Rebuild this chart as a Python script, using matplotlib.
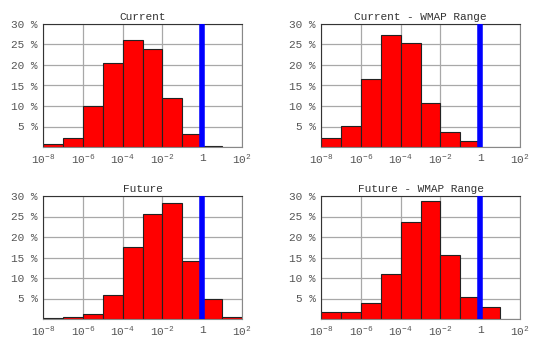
import numpy as np
import matplotlib
matplotlib.use("Agg")
import matplotlib.pyplot as plt

# fraction of models (%) per decade bin, 1e-8 .. 1e2
titles = ["Current", "Current - WMAP Range", "Future", "Future - WMAP Range"]
current = [0.7, 2.1, 9.9, 20.5, 26.1, 24.0, 12.0, 3.2, 0.3, 0.0]
current_wmap = [2.2, 5.1, 16.5, 27.3, 25.4, 10.8, 3.6, 1.4, 0.0, 0.0]
future = [0.2, 0.4, 1.2, 5.8, 17.6, 25.7, 28.3, 14.1, 4.9, 0.4]
future_wmap = [1.7, 1.7, 4.0, 11.0, 23.6, 28.7, 15.6, 5.4, 2.9, 0.0]
series = [current, current_wmap, future, future_wmap]

exponents = [-8, -6, -4, -2, 0, 2]
xtick_labels = [r"10$^{-8}$", r"10$^{-6}$", r"10$^{-4}$", r"10$^{-2}$", "1", r"10$^{2}$"]
ytick_vals = [5, 10, 15, 20, 25, 30]
ytick_labels = ["5 %", "10 %", "15 %", "20 %", "25 %", "30 %"]

plt.rcParams["font.family"] = ["Liberation Mono", "DejaVu Sans"]
plt.rcParams["mathtext.fontset"] = "custom"
plt.rcParams["mathtext.rm"] = "Liberation Mono"
plt.rcParams["mathtext.it"] = "Liberation Mono"

fig = plt.figure(figsize=(5.56, 3.44), dpi=100)
W, H = 556.0, 344.0
positions = [(43, 24), (321, 24), (43, 196), (321, 196)]
edges = np.logspace(-8, 2, 11)

for (x0, y0), title, vals in zip(positions, titles, series):
    ax = fig.add_axes([x0 / W, 1 - (y0 + 123) / H, 199 / W, 123 / H])
    ax.set_xscale("log")
    ax.bar(edges[:-1], vals, width=np.diff(edges), align="edge",
           color="#ff0000", edgecolor="#222222", linewidth=0.8, zorder=2)
    ax.axvline(1.0, color="#0000ff", linewidth=4, zorder=3)
    ax.set_xlim(1e-8, 1e2)
    ax.set_ylim(0, 30)
    ax.set_xticks([10.0 ** e for e in exponents])
    ax.set_xticklabels(xtick_labels)
    ax.xaxis.set_minor_locator(matplotlib.ticker.NullLocator())
    ax.set_yticks(ytick_vals)
    ax.set_yticklabels(ytick_labels)
    ax.tick_params(length=0, labelsize=8, labelcolor="#555555", pad=4)
    ax.grid(True, color="#a8a8a8", linewidth=0.9, zorder=0)
    ax.set_axisbelow(True)
    for side in ["left", "top"]:
        ax.spines[side].set_color("#333333")
    for side in ["right", "bottom"]:
        ax.spines[side].set_color("#888888")
    ax.set_title(title, fontsize=8, color="#333333", pad=3)

fig.savefig("out.png", dpi=100)
